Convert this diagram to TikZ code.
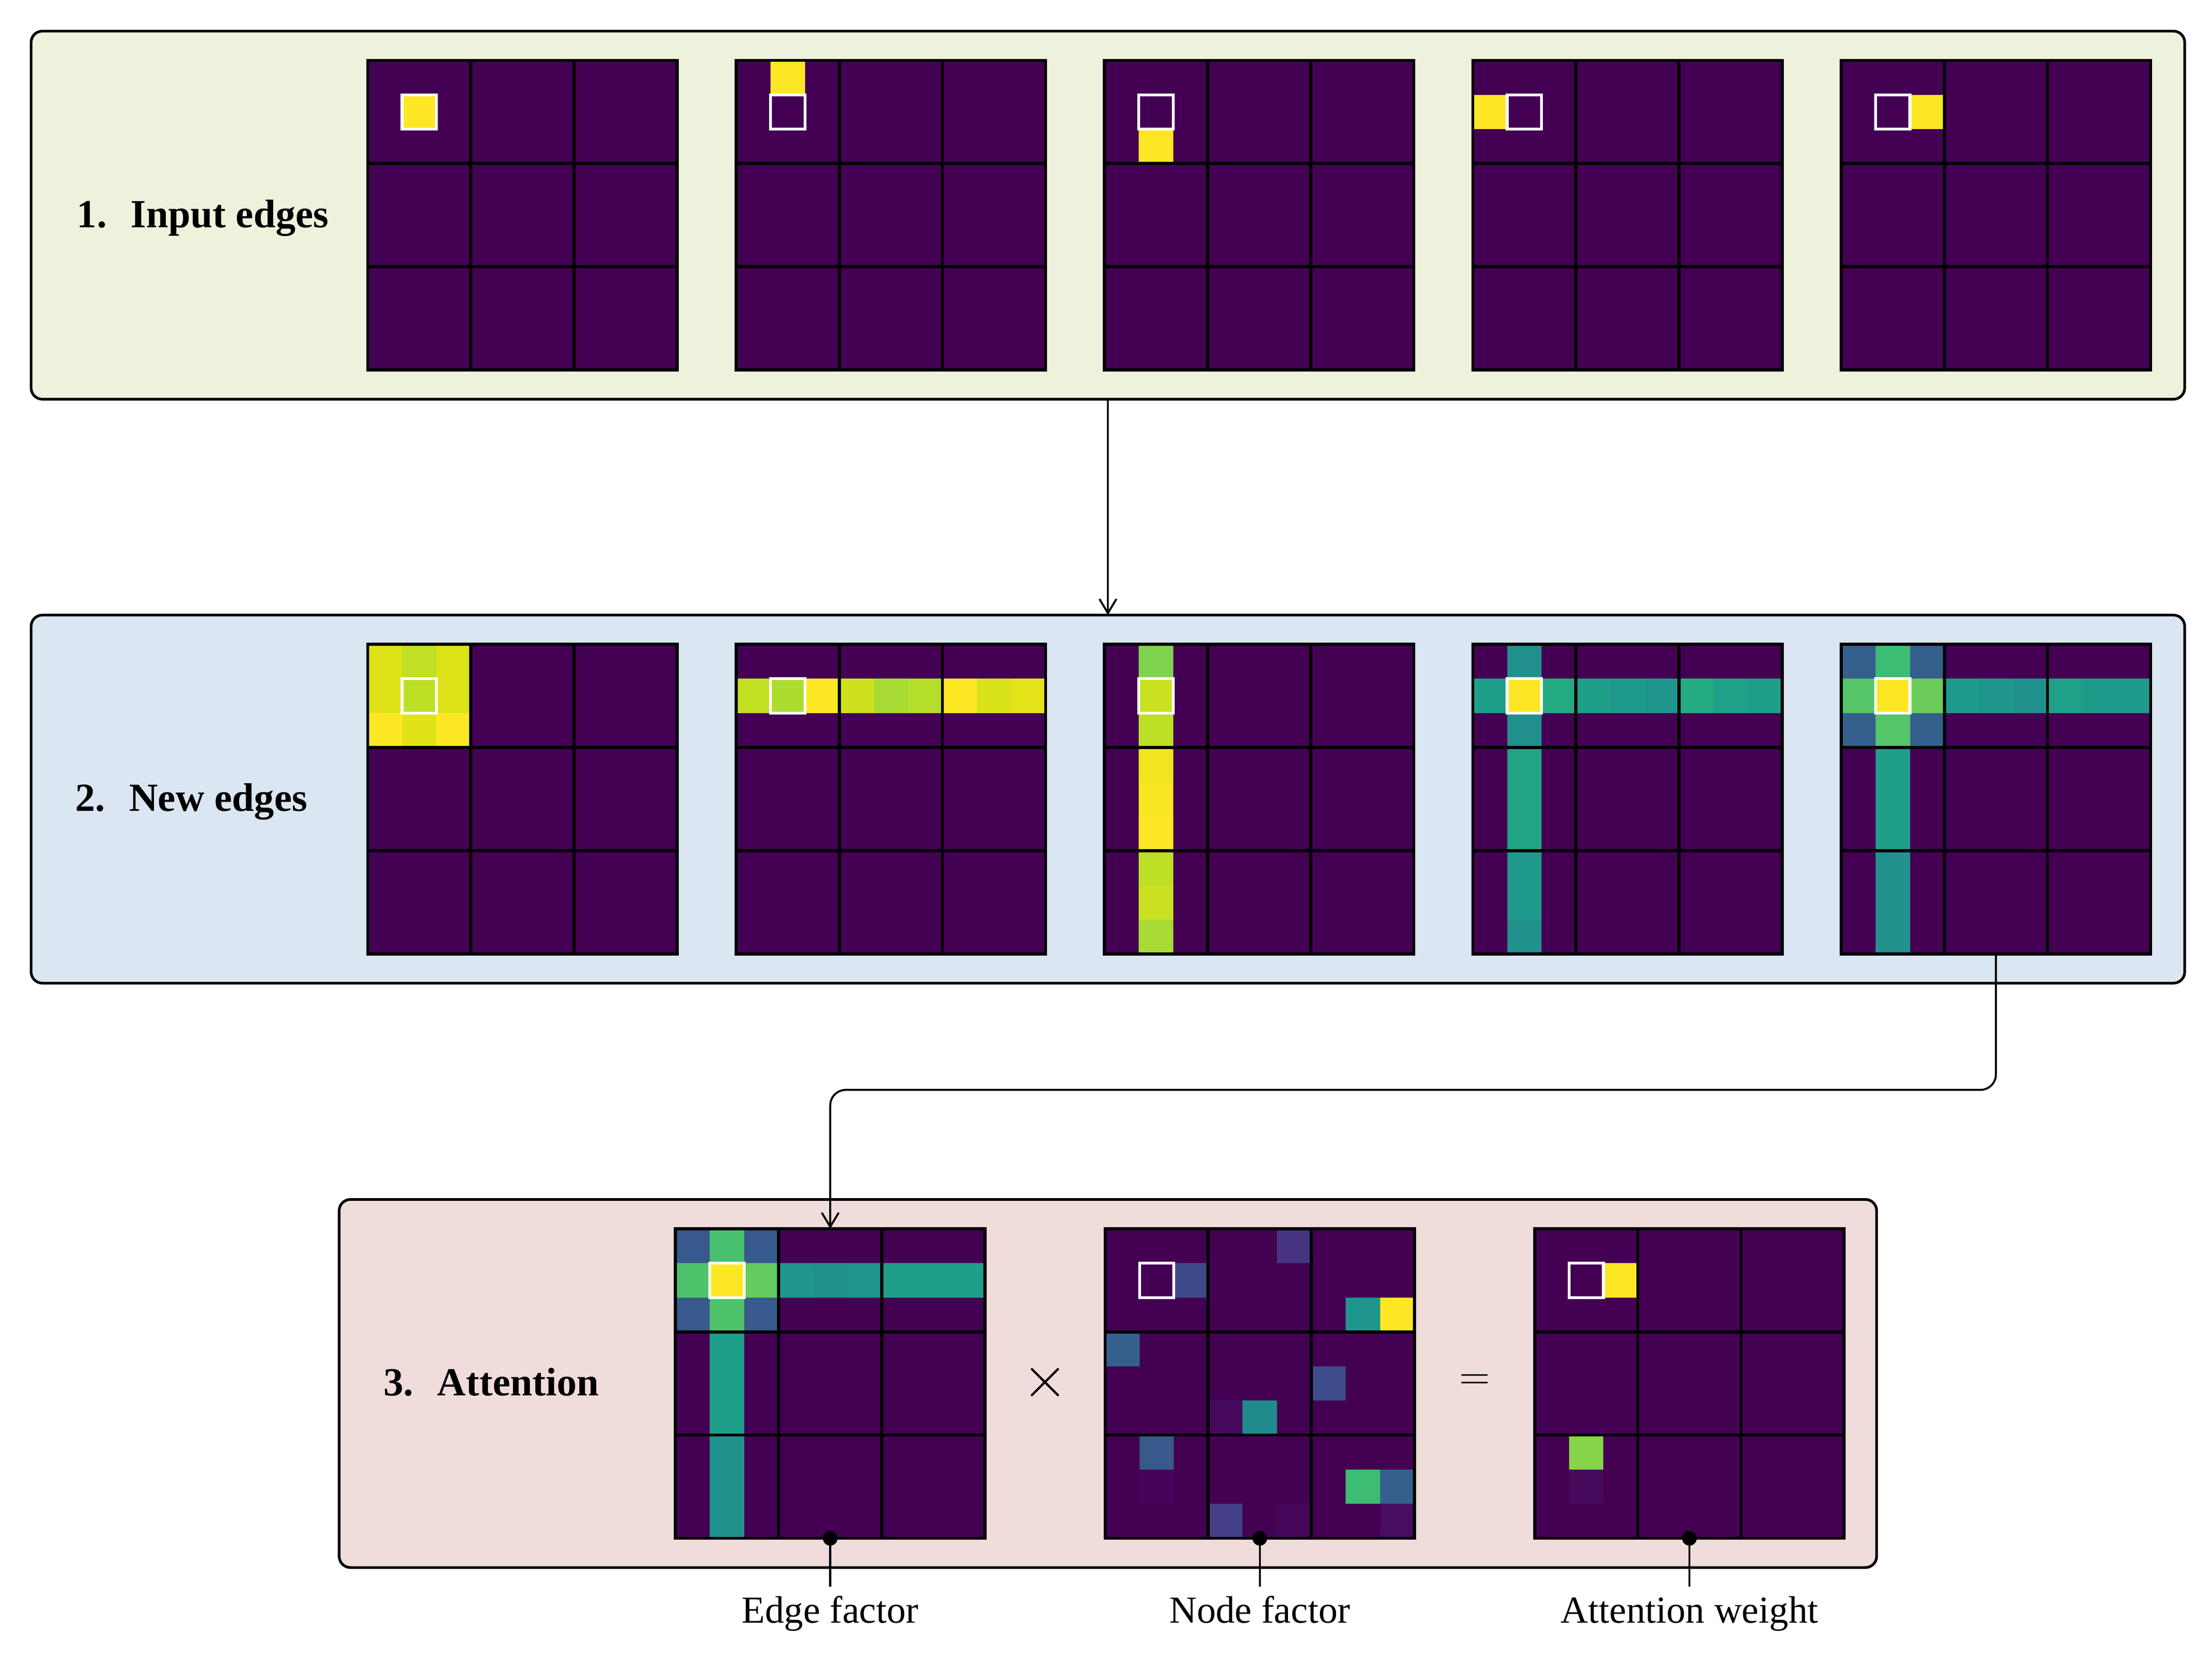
\documentclass[tikz,border=0pt]{standalone}
\usepackage{fontspec}
\setmainfont{Liberation Serif}
\usetikzlibrary{arrows.meta}

\definecolor{vbg}{HTML}{440154}
\definecolor{vY}{HTML}{FDE725}
\definecolor{a1}{HTML}{DDE318}
\definecolor{a2}{HTML}{C0DF25}
\definecolor{a3}{HTML}{BDDF26}
\definecolor{a4}{HTML}{E0E318}
\definecolor{b0}{HTML}{C2DF23}
\definecolor{b1}{HTML}{ADDC30}
\definecolor{b3}{HTML}{CFE11C}
\definecolor{b4}{HTML}{A8DB34}
\definecolor{b5}{HTML}{B5DE2B}
\definecolor{b7}{HTML}{D8E219}
\definecolor{b8}{HTML}{E5E419}
\definecolor{c0}{HTML}{7FD34E}
\definecolor{c1}{HTML}{CAE11F}
\definecolor{c2}{HTML}{BDDF26}
\definecolor{c3}{HTML}{F1E51D}
\definecolor{c4}{HTML}{F8E621}
\definecolor{d0}{HTML}{1F9E89}
\definecolor{d2}{HTML}{25AB82}
\definecolor{d3}{HTML}{21A585}
\definecolor{d4}{HTML}{1F9A8A}
\definecolor{d5}{HTML}{1F968B}
\definecolor{d7}{HTML}{1FA088}
\definecolor{d8}{HTML}{21918C}
\definecolor{d9}{HTML}{21908D}
\definecolor{e0}{HTML}{355F8D}
\definecolor{e1}{HTML}{3DBC74}
\definecolor{e2}{HTML}{54C568}
\definecolor{e3}{HTML}{6CCD5A}
\definecolor{f0}{HTML}{38598C}
\definecolor{f1}{HTML}{48C16E}
\definecolor{f2}{HTML}{4EC36B}
\definecolor{f3}{HTML}{63CB5F}
\definecolor{g1}{HTML}{463480}
\definecolor{g2}{HTML}{3E4A89}
\definecolor{g3}{HTML}{3E4C8A}
\definecolor{g4}{HTML}{46085C}
\definecolor{g5}{HTML}{218A8D}
\definecolor{g6}{HTML}{433E85}
\definecolor{g7}{HTML}{46075A}
\definecolor{g8}{HTML}{470D60}
\definecolor{g9}{HTML}{45035A}
\definecolor{h1}{HTML}{86D549}
\definecolor{h2}{HTML}{460A5D}
\definecolor{pa}{HTML}{EEF2DC}
\definecolor{pb}{HTML}{DAE6F1}
\definecolor{pc}{HTML}{F0DCDA}

\newcommand\cellsz{24.333}
\newcommand\drawmat[4]{%
  \node[matnode] (#1) at ({#2+109.5},{#3+109.5}) {};
  \foreach \mr/\mc/\mk in {#4} {
    \fill[\mk] ({#2+\mc*\cellsz},{#3+\mr*\cellsz}) rectangle ({#2+(\mc+1)*\cellsz},{#3+(\mr+1)*\cellsz});
  }
  \foreach \kk in {1,2} {
    \draw[blockline] ({#2+\kk*73},{#3}) -- ({#2+\kk*73},{#3+219});
    \draw[blockline] ({#2},{#3+\kk*73}) -- ({#2+219},{#3+\kk*73});
  }
  \draw[blockline] (#1.north west) rectangle (#1.south east);
  \draw[hlbox] ({#2+\cellsz},{#3+\cellsz}) rectangle ({#2+2*\cellsz},{#3+2*\cellsz});
}

\tikzset{
  matnode/.style={minimum size=109.5pt, inner sep=0pt, outer sep=0pt, fill=vbg, draw=none},
  blockline/.style={line width=1.1pt, draw=black},
  hlbox/.style={line width=1pt, draw=white},
  panel/.style={draw=black, line width=0.95pt, rounded corners=4pt, inner sep=0pt, outer sep=0pt},
  lab/.style={font=\fontsize{13.5}{16}\selectfont, inner sep=0pt},
  blab/.style={font=\fontsize{14.1}{17}\selectfont\bfseries, inner sep=0pt},
  opsym/.style={font=\fontsize{14}{16}\selectfont, inner sep=0pt},
  conn/.style={line width=0.7pt, -{Straight Barb[length=5pt,width=6pt,line width=0.7pt]}},
  tick/.style={line width=0.7pt},
}

\begin{document}
\begin{tikzpicture}[x=0.5pt,y=-0.5pt]
\useasboundingbox (0,0) rectangle (1565.33,1174);

% panels
\node[panel, fill=pa, minimum width=762pt, minimum height=130.2pt] (P1) at (784,152.2) {};
\node[panel, fill=pb, minimum width=762pt, minimum height=130.2pt] (P2) at (784,565.3) {};
\node[panel, fill=pc, minimum width=544pt, minimum height=130.2pt] (P3) at (784,978.7) {};

% labels
\node[blab, anchor=base west] (L1) at (54,160.8) {1.\hspace{0.6em}Input edges};
\node[blab, anchor=base west] (L2) at (53,573.9) {2.\hspace{0.6em}New edges};
\node[blab, anchor=base west] (L3) at (271,987.3) {3.\hspace{0.6em}Attention};

% row 1
\drawmat{m11}{260.2}{42.7}{1/1/vY}
\drawmat{m12}{520.9}{42.7}{0/1/vY}
\drawmat{m13}{781.5}{42.7}{2/1/vY}
\drawmat{m14}{1042.2}{42.7}{1/0/vY}
\drawmat{m15}{1302.9}{42.7}{1/2/vY}

% row 2
\drawmat{m21}{260.2}{455.8}{0/0/a1,0/1/a2,0/2/a1,1/0/a1,1/1/a3,1/2/a1,2/0/vY,2/1/a4,2/2/vY}
\drawmat{m22}{520.9}{455.8}{1/0/b0,1/1/b1,1/2/vY,1/3/b3,1/4/b4,1/5/b5,1/6/vY,1/7/b7,1/8/b8}
\drawmat{m23}{781.5}{455.8}{0/1/c0,1/1/c1,2/1/c2,3/1/c3,4/1/c4,5/1/vY,6/1/c2,7/1/c1,8/1/b4}
\drawmat{m24}{1042.2}{455.8}{1/0/d0,1/1/vY,1/2/d2,1/3/d0,1/4/d4,1/5/d5,1/6/d2,1/7/d7,1/8/d0,0/1/d9,2/1/d9,3/1/d3,4/1/d3,5/1/d3,6/1/d4,7/1/d4,8/1/d8}
\drawmat{m25}{1302.9}{455.8}{0/0/e0,0/1/e1,0/2/e0,1/0/e2,1/1/vY,1/2/e3,2/0/e0,2/1/e2,2/2/e0,1/3/d4,1/4/d5,1/5/d8,1/6/d7,1/7/d4,1/8/d4,3/1/d0,4/1/d0,5/1/d0,6/1/d8,7/1/d8,8/1/d8}

% row 3
\drawmat{m31}{478}{869.2}{0/0/f0,0/1/f1,0/2/f0,1/0/f2,1/1/vY,1/2/f3,2/0/f0,2/1/f2,2/2/f0,1/3/d5,1/4/d8,1/5/d5,1/6/d0,1/7/d0,1/8/d0,3/1/d0,4/1/d0,5/1/d0,6/1/d8,7/1/d8,8/1/d8}
\drawmat{m32}{782}{869.2}{0/5/g1,1/2/g2,2/7/d5,2/8/vY,3/0/e0,4/6/g3,5/3/g4,5/4/g5,6/1/f0,7/7/e1,7/8/e0,8/3/g6,8/5/g7,8/8/g8,7/1/g9}
\drawmat{m33}{1086}{869.2}{1/2/vY,6/1/h1,7/1/h2}

% operators
\node[opsym, font=\fontsize{21}{23}\selectfont] (times) at (739.5,978) {$\times$};
\node[opsym] (eq) at (1043.5,977.5) {$=$};

% connectors
\draw[conn] (P1.south) -- (P2.north);
\coordinate (bend) at (0,771);
\draw[conn, rounded corners=5.5pt] (m25.south) -- (m25.south |- bend) -- (m31.north |- bend) -- (m31.north);

% bottom annotations
\coordinate (yb) at (0,1122.5);
\coordinate (yt) at (0,1148);
\coordinate (e1) at (m31.south |- yb);
\coordinate (e2) at (m32.south |- yb);
\coordinate (e3) at (m33.south |- yb);
\draw[tick] (m31.south) -- (e1);
\draw[tick] (m32.south) -- (e2);
\draw[tick] (m33.south) -- (e3);
\fill (m31.south) circle (2.6pt);
\fill (m32.south) circle (2.6pt);
\fill (m33.south) circle (2.6pt);
\node[lab, anchor=base] (t1) at (m31.south |- yt) {Edge factor};
\node[lab, anchor=base] (t2) at (m32.south |- yt) {Node factor};
\node[lab, anchor=base] (t3) at (m33.south |- yt) {Attention weight};
\end{tikzpicture}
\end{document}
